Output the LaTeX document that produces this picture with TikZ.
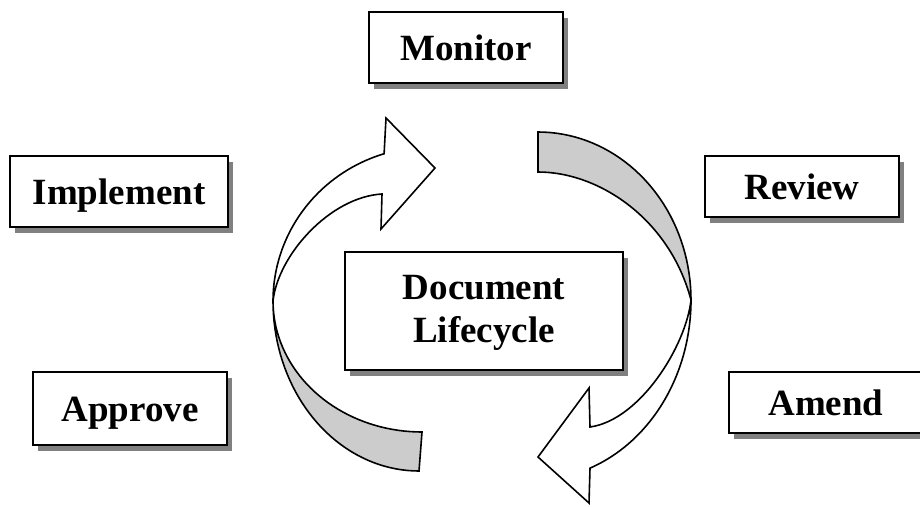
\documentclass[tikz,border=0pt]{standalone}
\usepackage{fontspec}
\setmainfont{Liberation Serif}
\usetikzlibrary{shadows}
\definecolor{bandgray}{RGB}{204,204,204}
\definecolor{shadowgray}{RGB}{128,128,128}
\begin{document}
\begin{tikzpicture}[x=1pt,y=-1pt,
  stagefont/.style={font=\fontsize{37}{43}\selectfont\bfseries},
  stage/.style={stagefont, draw=black, line width=2.4pt, fill=white, inner sep=0pt,
    text height=25pt, text depth=0pt,
    drop shadow={shadow xshift=5pt, shadow yshift=-6pt, fill=shadowgray, opacity=1}},
  caption/.style={stagefont, inner sep=0pt, align=center},
  ribbon/.style={draw=black, line width=1.6pt, line join=miter},
  face/.style={ribbon, fill=white},
  back/.style={ribbon, fill=bandgray},
]
\useasboundingbox (0,0) rectangle (920,506);

% cycle arrows: each is a twisted band, grey back face plus white front face with a head
% left arrow, back face (lower left)
\draw[back] plot[domain=180:90, samples=40, variable=\t] ({419+146*cos(\t)},{301+170*sin(\t)})
  -- plot[domain=90:180, samples=40, variable=\t] ({422+149*cos(\t)},{301+131*sin(\t)}) -- cycle;
% left arrow, front face rising to the head
\draw[face] plot[domain=180:253, samples=40, variable=\t] ({430+157*cos(\t)},{301+154*sin(\t)})
  -- (386,118) -- (435,168) -- (381,229) -- (382,194)
  .. controls (330,197) and (278,255) .. (273,301) -- cycle;
% right arrow, back face (upper right)
\draw[back] plot[domain=270:360, samples=40, variable=\t] ({538+153*cos(\t)},{300+168*sin(\t)})
  .. controls (670,220) and (600,172) .. (538,172) -- cycle;
% right arrow, front face falling to the head
\draw[face] plot[domain=0:69.1, samples=40, variable=\t] ({534+157*cos(\t)},{300+180*sin(\t)})
  -- (589,503) -- (538,457) -- (589,388) -- (590,427)
  .. controls (640,420) and (686,346) .. (691,300) -- cycle;

% stage boxes
\node[stage, minimum width=194pt, minimum height=71pt] (monitor) at (466,47.5) {Monitor};
\node[stage, minimum width=218pt, minimum height=71pt] (implement) at (119,191.5) {Implement};
\node[stage, minimum width=194pt, minimum height=61pt] (review) at (802,186.5) {Review};
\node[stage, minimum width=194pt, minimum height=73pt] (approve) at (130,408.5) {Approve};
\node[stage, minimum width=194pt, minimum height=61pt] (amend) at (826,402.5) {Amend};

% centre box
\node[stage, minimum width=278pt, minimum height=118pt] (doc) at (484,311) {};
\node[caption] (doctext) at (484,313) {Document\\Lifecycle};
\end{tikzpicture}
\end{document}
